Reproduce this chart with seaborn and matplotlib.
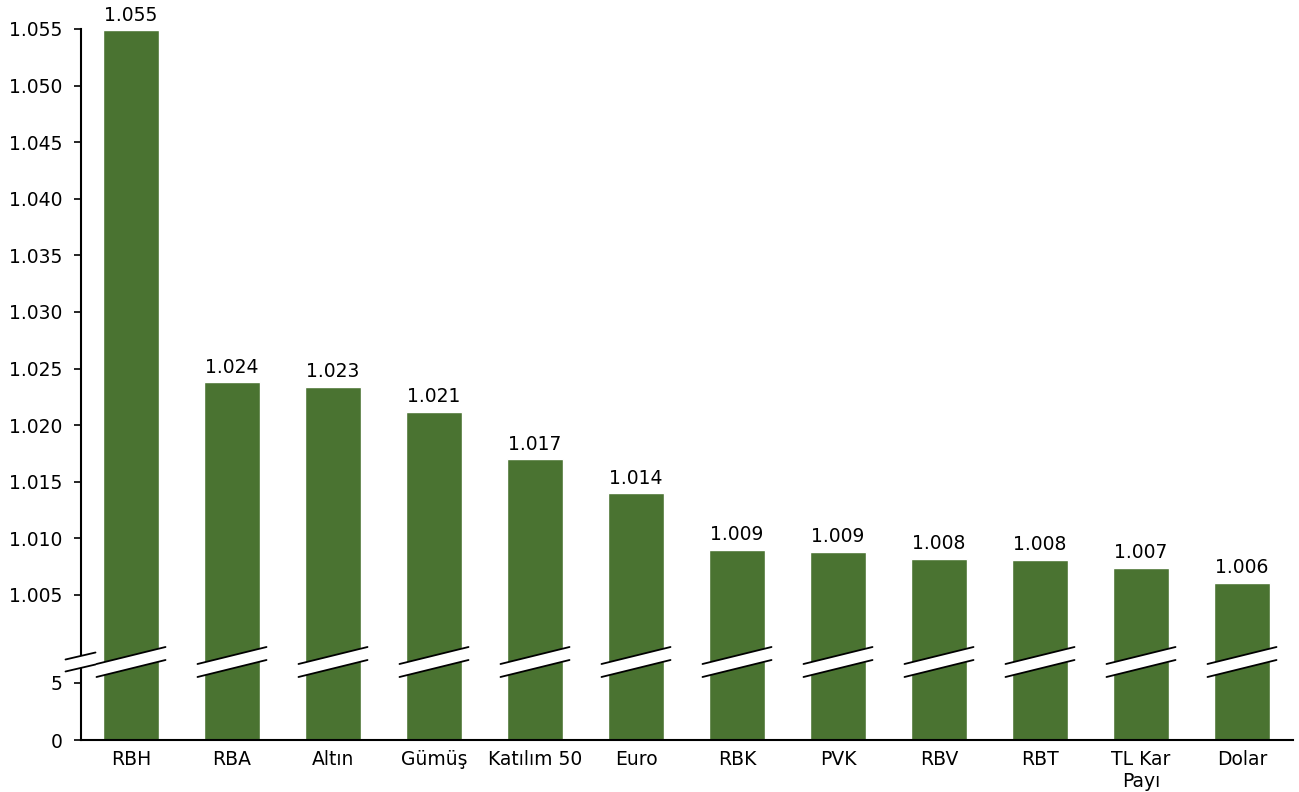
import matplotlib.pyplot as plt
import seaborn as sns
import pandas as pd
from matplotlib.patches import Polygon
from matplotlib.transforms import blended_transform_factory

# veriler
kategoriler = ['RBH', 'RBA', 'Altın', 'Gümüş', 'Katılım 50', 'Euro',
               'RBK', 'PVK', 'RBV', 'RBT', 'TL Kar\nPayı', 'Dolar']
degerler = [1.0549, 1.0238, 1.0234, 1.0212, 1.0170, 1.0140,
            1.0090, 1.0088, 1.0082, 1.0081, 1.0074, 1.0061]
ust_tikler = [1.005, 1.010, 1.015, 1.020, 1.025, 1.030,
              1.035, 1.040, 1.045, 1.050, 1.055]
alt_tikler = [0, 5]

df = pd.DataFrame({'kategori': kategoriler, 'deger': degerler})
renk = '#4A7331'
fs = 13.5

sns.set_style('white')
plt.rcParams['font.family'] = ['DejaVu Sans']
plt.rcParams['text.color'] = 'black'
plt.rcParams['xtick.color'] = 'black'
plt.rcParams['ytick.color'] = 'black'

W, H = 1299, 792
fig = plt.figure(figsize=(W / 100, H / 100), dpi=100)

def fy(p):
    return 1 - p / H

sol = 80.5 / W
gen = 1212 / W
kirik = 662
ax_ust = fig.add_axes([sol, fy(kirik), gen, fy(29) - fy(kirik)])
ax_alt = fig.add_axes([sol, fy(740), gen, fy(kirik) - fy(740)])

for ax in (ax_ust, ax_alt):
    sns.barplot(data=df, x='kategori', y='deger', color=renk, width=0.56,
                saturation=1, ax=ax)
    ax.set_xlim(-0.5, len(kategoriler) - 0.5)
    ax.set_xlabel('')
    ax.set_ylabel('')
    for s in ('top', 'right'):
        ax.spines[s].set_visible(False)
    ax.spines['left'].set_color('black')
    ax.spines['left'].set_linewidth(1.5)
    ax.tick_params(axis='y', left=True, length=5, width=1.2, color='black',
                   labelsize=fs, pad=8, labelcolor='black')

# üst eksen
ust_alt = 1.055 - (kirik - 29) / 11.32 * 0.001
ax_ust.set_ylim(ust_alt, 1.055)
ax_ust.set_yticks(ust_tikler)
ax_ust.set_yticklabels([f'{t:.3f}' for t in ust_tikler])
ax_ust.spines['bottom'].set_visible(False)
ax_ust.set_xticks([])
ax_ust.bar_label(ax_ust.containers[0], fmt='%.3f', padding=4, fontsize=fs,
                 color='black')

# alt eksen: sütunlar kırığın üstüne taşar, 0-5 ölçeği ayrı gösterilir
alt_ust = (740 - kirik) / 11.4
olcek = ust_alt / alt_ust
ax_alt.set_ylim(0, ust_alt)
ax_alt.set_yticks([t * olcek for t in alt_tikler])
ax_alt.set_yticklabels([str(t) for t in alt_tikler])
ax_alt.spines['bottom'].set_color('black')
ax_alt.spines['bottom'].set_linewidth(1.5)
ax_alt.tick_params(axis='x', bottom=False, labelsize=fs, pad=4,
                   labelcolor='black')

# kırık işaretleri
tr = blended_transform_factory(ax_alt.transData, fig.transFigure)
px = 1212 / len(kategoriler)  # piksel / birim

def kirik_isaret(xm, yarim, kalinlik, egim):
    x0, x1 = xm - yarim / px, xm + yarim / px
    yl = kirik + egim * yarim
    yr = kirik - egim * yarim
    ust = [(x0, fy(yl - kalinlik / 2)), (x1, fy(yr - kalinlik / 2))]
    alt = [(x0, fy(yl + kalinlik / 2)), (x1, fy(yr + kalinlik / 2))]
    poly = Polygon([ust[0], ust[1], alt[1], alt[0]], closed=True,
                   facecolor='white', edgecolor='none', transform=tr,
                   clip_on=False, zorder=10)
    ax_alt.add_patch(poly)
    for cizgi in (ust, alt):
        ax_alt.plot([cizgi[0][0], cizgi[1][0]], [cizgi[0][1], cizgi[1][1]],
                    color='black', lw=1.3, transform=tr, clip_on=False,
                    zorder=11)

for i in range(len(kategoriler)):
    kirik_isaret(i, 34.5, 13, 17 / 69)

kirik_isaret(-0.5, 15, 12, 7 / 30)

fig.savefig('out.png', dpi=100)
